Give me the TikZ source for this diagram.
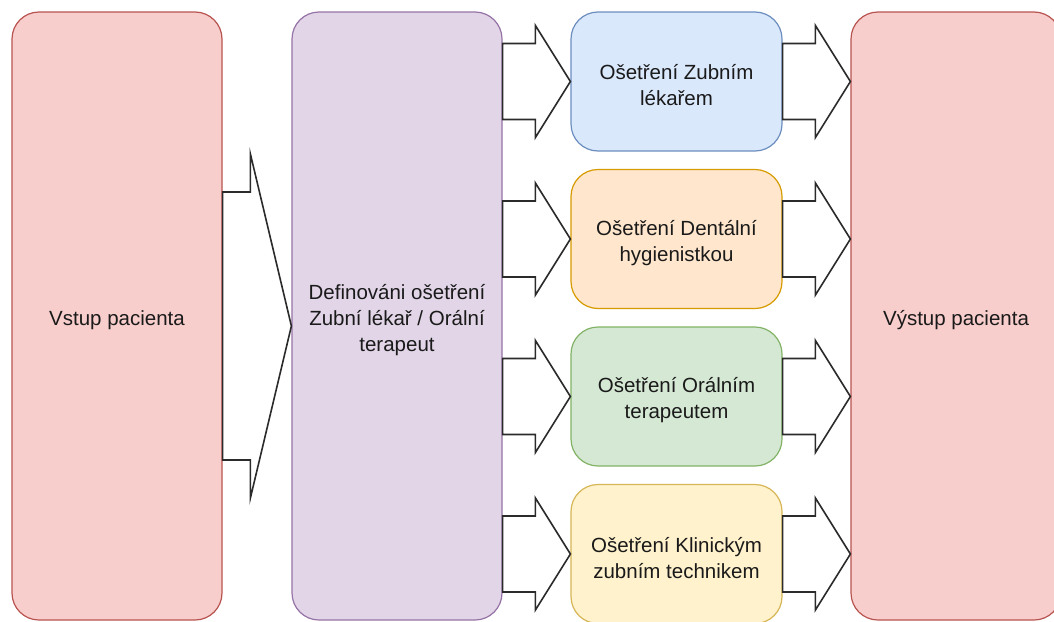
\documentclass[tikz,border=0pt]{standalone}
\usepackage{fontspec}
\setmainfont{Liberation Sans}
\usetikzlibrary{calc}

\definecolor{redfill}{HTML}{F8CECC}\definecolor{redline}{HTML}{B85450}
\definecolor{purfill}{HTML}{E1D5E7}\definecolor{purline}{HTML}{9673A6}
\definecolor{bluefill}{HTML}{DAE8FC}\definecolor{blueline}{HTML}{6C8EBF}
\definecolor{orafill}{HTML}{FFE6CC}\definecolor{oraline}{HTML}{D79B00}
\definecolor{grefill}{HTML}{D5E8D4}\definecolor{greline}{HTML}{82B366}
\definecolor{yelfill}{HTML}{FFF2CC}\definecolor{yelline}{HTML}{D6B656}
\definecolor{ink}{HTML}{1A1A1A}
\definecolor{arrowline}{HTML}{2B2B2B}

\tikzset{
  box/.style={draw, line width=1.2pt, rounded corners=27pt, inner sep=0pt},
  tallbox/.style={box, minimum width=210pt, minimum height=608pt},
  stagebox/.style={box, minimum width=211pt, minimum height=139pt},
  boxtext/.style={align=center, text=ink, font=\fontsize{20.5}{26}\selectfont, inner sep=0pt},
  blockarrow/.style={draw=arrowline, fill=white, line width=1.6pt, line join=miter},
}

% block arrow: from node #1 (east side) to node #2 (west side) at row y=#3,
% body half-height #4, head half-height #5, head length #6
\newcommand\blockarrow[6]{%
  \draw[blockarrow] let \p1=(#1.east), \p2=(#2.west), \p3=(0,#3) in
    (\x1,\y3+#4) -- (\x2-#6,\y3+#4) -- (\x2-#6,\y3+#5) -- (\x2,\y3)
    -- (\x2-#6,\y3-#5) -- (\x2-#6,\y3-#4) -- (\x1,\y3-#4) -- cycle;}

% caption centred a little below the middle of a box
\newcommand\boxcaption[2]{\node[boxtext] (#1-text) at ($(#1.center)+(0,4)$) {#2};}

\begin{document}
\begin{tikzpicture}[x=1pt,y=-1pt]
  \clip (0,0) rectangle (1054,621);
  \fill[white] (0,0) rectangle (1054,621);

  % patient entry, treatment definition and patient exit
  \node[tallbox, fill=redfill, draw=redline] (in) at (117,316) {};
  \node[tallbox, fill=purfill, draw=purline] (def) at (397,316) {};
  \node[tallbox, fill=redfill, draw=redline] (out) at (956,316) {};

  % treatment stages
  \node[stagebox, fill=bluefill, draw=blueline] (s1) at (676.5,81.5) {};
  \node[stagebox, fill=orafill, draw=oraline] (s2) at (676.5,239) {};
  \node[stagebox, fill=grefill, draw=greline] (s3) at (676.5,396.5) {};
  \node[stagebox, fill=yelfill, draw=yelline] (s4) at (676.5,554) {};

  \boxcaption{in}{Vstup pacienta}
  \boxcaption{def}{Definováni ošetření\\Zubní lékař / Orální\\terapeut}
  \boxcaption{out}{Výstup pacienta}
  \boxcaption{s1}{Ošetření Zubním\\lékařem}
  \boxcaption{s2}{Ošetření Dentální\\hygienistkou}
  \boxcaption{s3}{Ošetření Orálním\\terapeutem}
  \boxcaption{s4}{Ošetření Klinickým\\zubním technikem}

  % flow arrows
  \blockarrow{in}{def}{326}{134pt}{172pt}{41pt}
  \blockarrow{def}{s1}{81.5}{38pt}{56pt}{35pt}
  \blockarrow{def}{s2}{239}{38pt}{56pt}{35pt}
  \blockarrow{def}{s3}{396.5}{38pt}{56pt}{35pt}
  \blockarrow{def}{s4}{554}{38pt}{56pt}{35pt}
  \blockarrow{s1}{out}{81.5}{38pt}{56pt}{35pt}
  \blockarrow{s2}{out}{239}{38pt}{56pt}{35pt}
  \blockarrow{s3}{out}{396.5}{38pt}{56pt}{35pt}
  \blockarrow{s4}{out}{554}{38pt}{56pt}{35pt}
\end{tikzpicture}
\end{document}
